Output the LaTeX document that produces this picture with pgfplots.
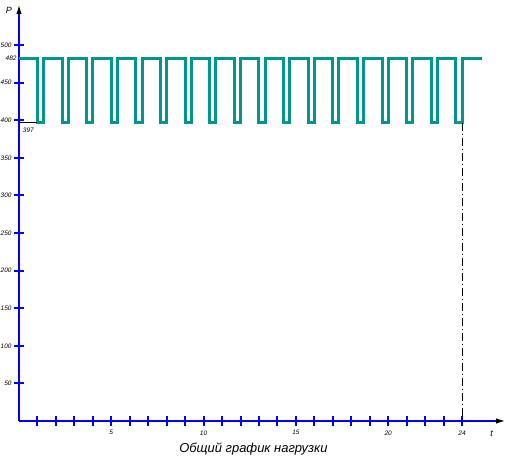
\documentclass[border=0pt]{standalone}
\usepackage{fontspec}
\setmainfont{Liberation Sans}
\usepackage{pgfplots}
\pgfplotsset{compat=1.18}
\usetikzlibrary{arrows.meta}
\definecolor{tealc}{RGB}{0,150,140}
\definecolor{axblue}{RGB}{0,0,255}
\begin{document}
\begin{tikzpicture}
\begin{axis}[
  scale only axis, width=491bp, height=421bp,
  xmin=0, xmax=26.6, ymin=0, ymax=560,
  axis lines=middle,
  axis line style={axblue, line width=2.4pt, -{Latex[color=black, length=14bp, width=5bp]}},
  clip=false,
  xtick={1,...,24},
  xticklabels={,,,,5,,,,,10,,,,,15,,,,,20,,,,24},
  ytick={50,100,...,500},
  extra y ticks={482},
  extra y tick labels={482},
  extra y tick style={major tick length=0pt},
  tick align=center,
  major tick length=10bp,
  every tick/.style={axblue, line width=2pt},
  ticklabel style={font=\fontsize{6.5}{7}\selectfont\itshape},
  xticklabel style={yshift=-1bp},
  yticklabel style={xshift=1bp},
  /pgf/number format/assume math mode=true,
]
\addplot[draw=tealc, line width=3pt, line join=miter] coordinates {
(0,482) (1,482) (1,397) (1.333,397) (1.333,482)
(2.333,482) (2.333,397) (2.667,397) (2.667,482)
(3.667,482) (3.667,397) (4,397) (4,482)
(5,482) (5,397) (5.333,397) (5.333,482)
(6.333,482) (6.333,397) (6.667,397) (6.667,482)
(7.667,482) (7.667,397) (8,397) (8,482)
(9,482) (9,397) (9.333,397) (9.333,482)
(10.333,482) (10.333,397) (10.667,397) (10.667,482)
(11.667,482) (11.667,397) (12,397) (12,482)
(13,482) (13,397) (13.333,397) (13.333,482)
(14.333,482) (14.333,397) (14.667,397) (14.667,482)
(15.667,482) (15.667,397) (16,397) (16,482)
(17,482) (17,397) (17.333,397) (17.333,482)
(18.333,482) (18.333,397) (18.667,397) (18.667,482)
(19.667,482) (19.667,397) (20,397) (20,482)
(21,482) (21,397) (21.333,397) (21.333,482)
(22.333,482) (22.333,397) (22.667,397) (22.667,482)
(23.667,482) (23.667,397) (24,397) (24,482)
(25.1,482)
};
\addplot[black, line width=0.8pt] coordinates {(0,397) (1,397)};
\addplot[black, line width=0.8pt, dash pattern=on 8bp off 3bp on 1bp off 3bp] coordinates {(24,397) (24,0)};
\node[font=\fontsize{6.5}{7}\selectfont\itshape, anchor=north west, inner sep=1bp] at (axis cs:0.15,391) {397};
\node[font=\fontsize{9}{10}\selectfont\itshape] at (axis cs:-0.55,546) {P};
\node[font=\fontsize{9}{10}\selectfont\itshape] at (axis cs:25.6,-17) {t};
\node[font=\fontsize{13}{15}\selectfont\itshape] at (axis cs:12.7,-37) {Общий график нагрузки};
\coordinate (bl) at (axis cs:0,0);
\coordinate (tr) at (axis cs:26.6,560);
\end{axis}
\pgfresetboundingbox
\path ([shift={(-19bp,-39bp)}]bl) rectangle ([shift={(8bp,0bp)}]tr);
\end{tikzpicture}
\end{document}
